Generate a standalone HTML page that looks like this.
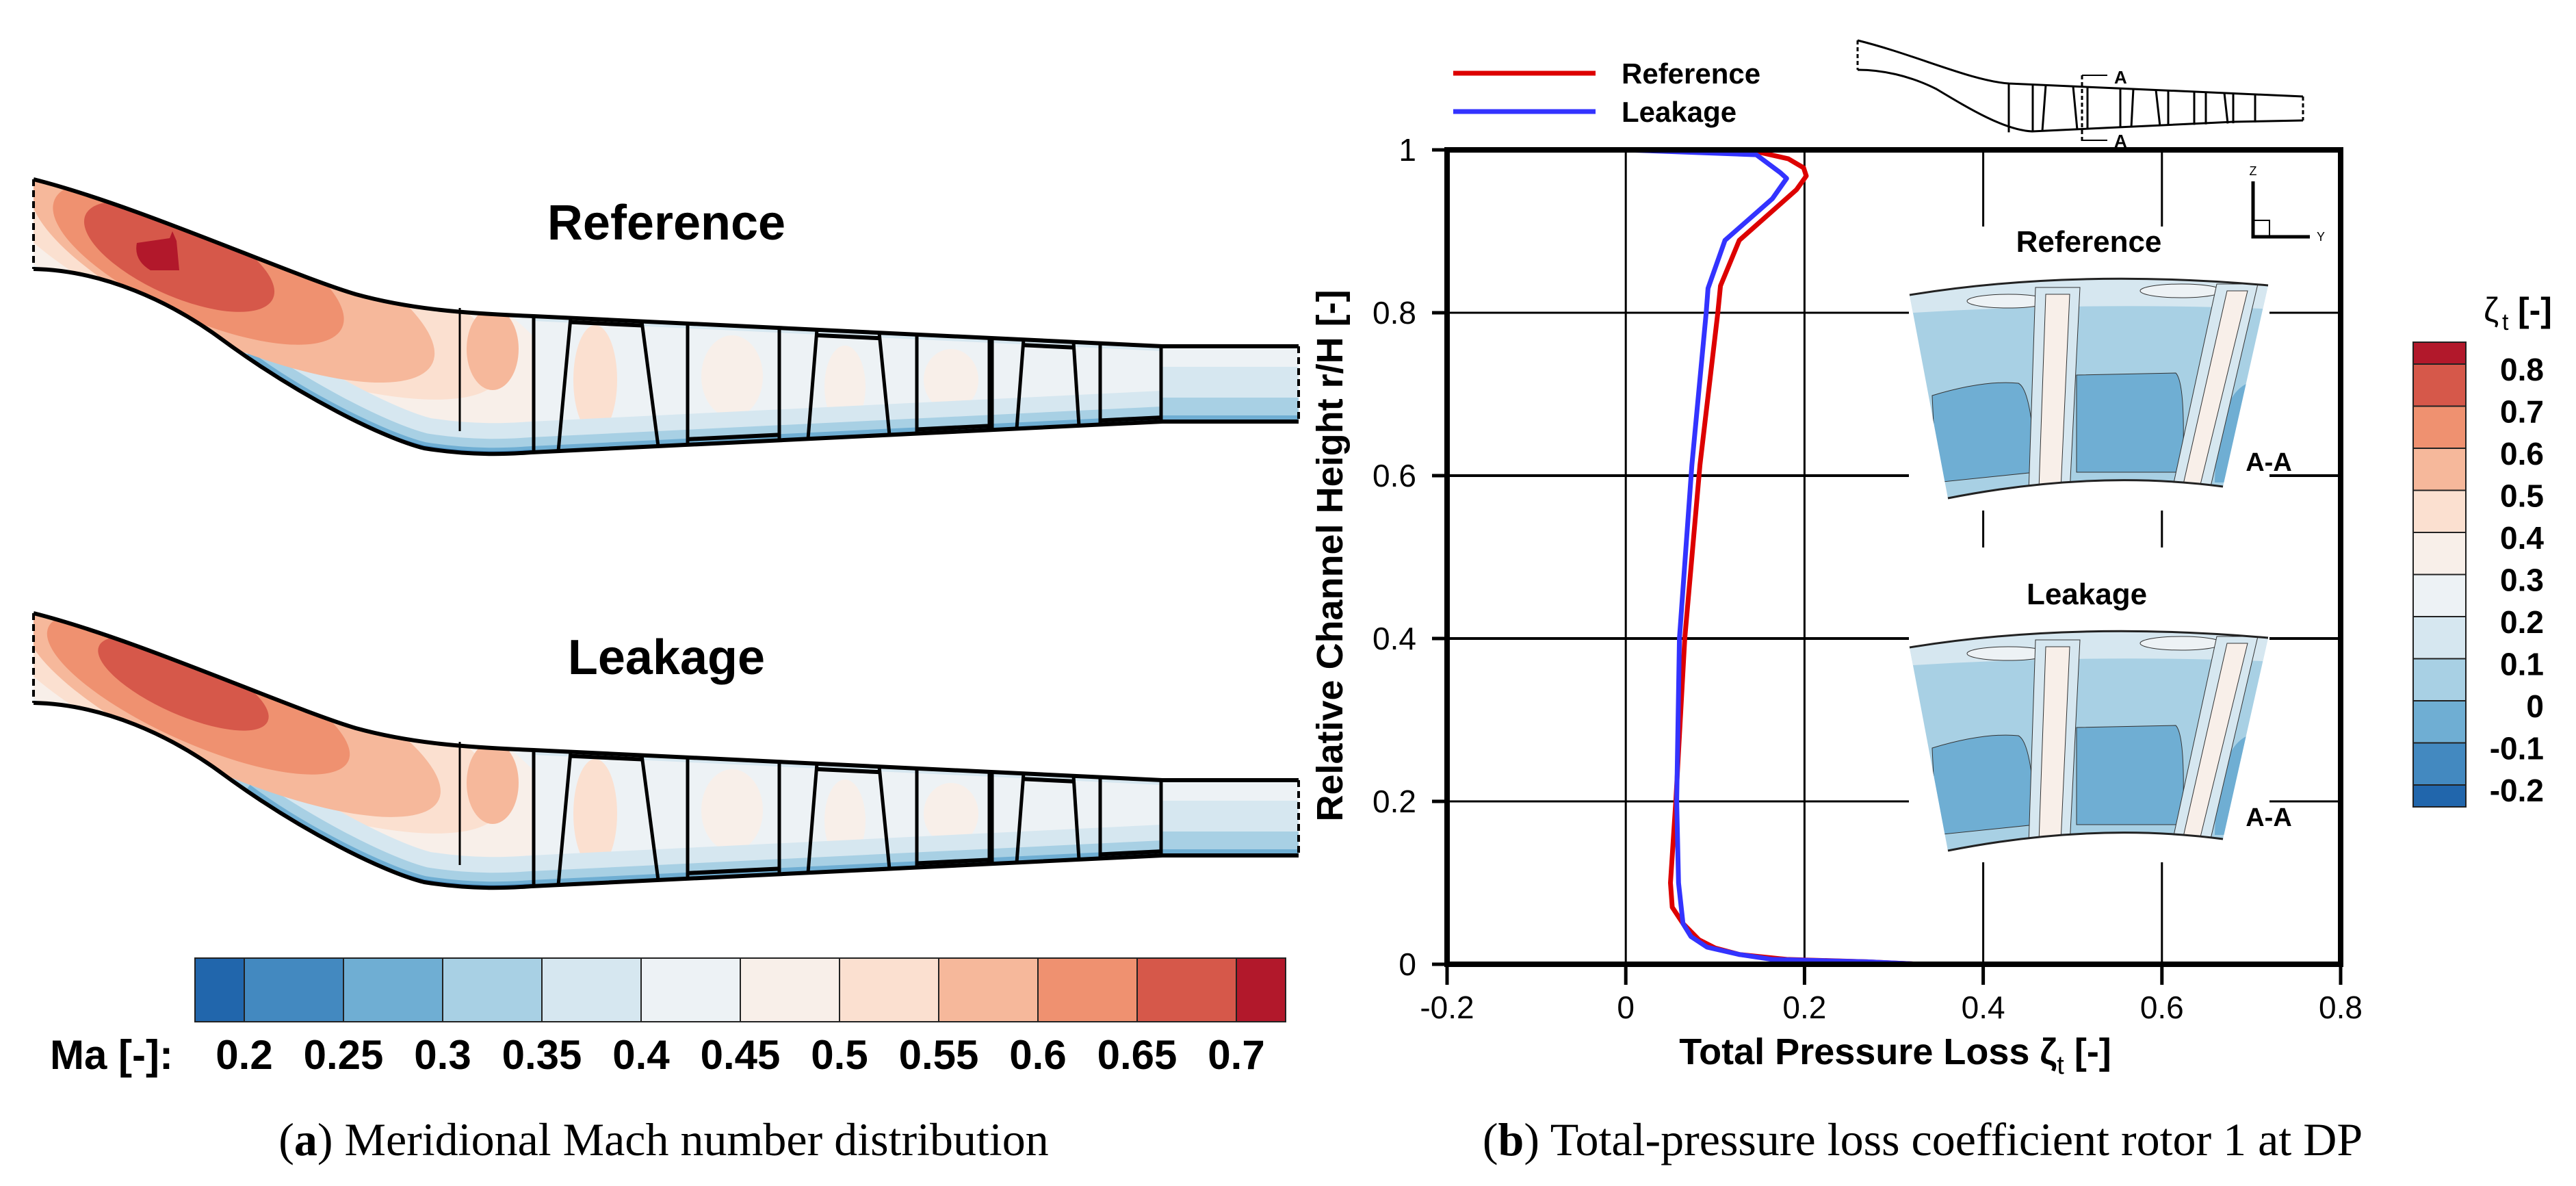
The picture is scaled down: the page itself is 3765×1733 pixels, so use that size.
<!DOCTYPE html>
<html><head><meta charset="utf-8">
<style>
html,body{margin:0;padding:0;background:#fff;}
svg{display:block;}
.sans{font-family:"Liberation Sans",sans-serif;}
.narrow{font-family:"Liberation Sans Narrow","Liberation Sans",sans-serif;}
.serif{font-family:"Liberation Serif",serif;}
</style></head>
<body>
<svg id="fig" width="3765" height="1733" viewBox="0 0 3765 1733" xmlns="http://www.w3.org/2000/svg">
<defs>
  <clipPath id="ductClip"><path d="M49,262 C200,300 420,400 520,430 C600,452 680,458 780,462 L1699,506 L1898,506 L1898,616 L1699,616 L777,661 C760,662 700,668 620,655 C560,640 440,580 330,500 C250,440 150,395 49,393 Z"/></clipPath>
  <clipPath id="insetClip"><path d="M2791,431 Q3032,392 3315,417 L3249,711 Q3060,686 2847,728 Z"/></clipPath>
  <g id="ductBase">
    <rect x="40" y="250" width="1870" height="420" fill="#edf2f5"/>
    <ellipse cx="380" cy="410" rx="480" ry="135" fill="#f8efe9" transform="rotate(22 380 410)"/>
    <ellipse cx="360" cy="400" rx="400" ry="115" fill="#fbe0d0" transform="rotate(22 360 400)"/>
    <path d="M780,462 L1699,506 L1699,616 L777,661 Z" fill="#edf2f5"/>
    <ellipse cx="720" cy="510" rx="38" ry="60" fill="#f6b89b"/>
    <ellipse cx="870" cy="555" rx="32" ry="80" fill="#fbe0d0"/>
    <ellipse cx="1070" cy="550" rx="45" ry="60" fill="#f8efe9"/>
    <ellipse cx="1235" cy="565" rx="30" ry="60" fill="#f8efe9"/>
    <ellipse cx="1390" cy="555" rx="40" ry="45" fill="#f8efe9"/>
    <path d="M300,478 C440,580 560,640 620,655 C700,668 760,662 777,661 L1699,616 L1898,616" fill="none" stroke="#d6e7f0" stroke-width="90"/>
    <path d="M320,492 C440,580 560,640 620,655 C700,668 760,662 777,661 L1699,616 L1898,616" fill="none" stroke="#a8d0e4" stroke-width="44"/>
    <path d="M360,520 C440,580 560,640 620,655 C700,668 760,662 777,661 L1699,616 L1898,616" fill="none" stroke="#6faed3" stroke-width="18"/>
    <path d="M420,565 C500,612 560,640 620,655 C700,668 760,662 777,661" fill="none" stroke="#4389c0" stroke-width="8"/>
    <rect x="1699" y="506" width="200" height="30" fill="#edf2f5"/>
    <rect x="1699" y="536" width="200" height="45" fill="#d6e7f0"/>
    <rect x="1699" y="581" width="200" height="22" fill="#a8d0e4"/>
    <path d="M780,462 L1699,506" stroke="#d6e7f0" stroke-width="14" fill="none"/>
  </g>
  <g id="inset">
    <g clip-path="url(#insetClip)">
      <rect x="2780" y="390" width="550" height="350" fill="#a8d0e4"/>
      <path d="M2780,390 L3330,390 L3330,452 Q3060,440 2780,458 Z" fill="#d6e7f0"/>
      <ellipse cx="2935" cy="440" rx="60" ry="10" fill="#edf2f5" stroke="#333" stroke-width="1"/>
      <ellipse cx="3188" cy="425" rx="60" ry="10" fill="#edf2f5" stroke="#333" stroke-width="1"/>
      <path d="M2824,578 Q2900,555 2950,560 Q2970,570 2975,690 L2830,705 Z" fill="#6faed3" stroke="#333" stroke-width="1"/>
      <path d="M3035,548 L3180,545 Q3195,560 3190,690 L3035,690 Z" fill="#6faed3" stroke="#333" stroke-width="1"/>
      <path d="M3285,560 L3260,705 L3237,705 Q3240,580 3285,560 Z" fill="#6faed3"/>
      <path d="M2975,420 L3040,420 L3025,720 L2965,720 Z" fill="#d6e7f0" stroke="#333" stroke-width="1"/>
      <path d="M2990,430 L3025,430 L3012,715 L2980,715 Z" fill="#f8efe9" stroke="#333" stroke-width="1"/>
      <path d="M3240,415 L3300,415 L3230,715 L3175,715 Z" fill="#d6e7f0" stroke="#333" stroke-width="1"/>
      <path d="M3255,425 L3285,425 L3215,712 L3190,712 Z" fill="#f8efe9" stroke="#333" stroke-width="1"/>
    </g>
    <path d="M2791,431 Q3032,392 3315,417 M3249,711 Q3060,686 2847,728" fill="none" stroke="#222" stroke-width="3"/>
  </g>
</defs>

<!-- ===== Panel (a) ===== -->
<g>
  <g clip-path="url(#ductClip)">
    <use href="#ductBase"/>
    <ellipse cx="340" cy="400" rx="320" ry="100" fill="#f6b89b" transform="rotate(24 340 400)"/>
    <ellipse cx="290" cy="385" rx="230" ry="80" fill="#ef9170" transform="rotate(24 290 385)"/>
    <ellipse cx="262" cy="375" rx="150" ry="58" fill="#d6584a" transform="rotate(24 262 375)"/>
    <path d="M200,355 L248,348 L252,338 L258,352 L262,395 L220,395 Q195,380 200,355 Z" fill="#b2182b"/>
  </g>
  <g id="bladesRef"></g>
</g>
<g transform="translate(0,634)">
  <g clip-path="url(#ductClip)">
    <use href="#ductBase"/>
    <ellipse cx="340" cy="400" rx="330" ry="95" fill="#f6b89b" transform="rotate(24 340 400)"/>
    <ellipse cx="290" cy="380" rx="240" ry="72" fill="#ef9170" transform="rotate(24 290 380)"/>
    <ellipse cx="268" cy="365" rx="135" ry="45" fill="#d6584a" transform="rotate(24 268 365)"/>
  </g>
  <g id="bladesLeak"></g>
</g>
<text x="974" y="350" text-anchor="middle" class="narrow" font-weight="bold" font-size="72">Reference</text>
<text x="974" y="985" text-anchor="middle" class="narrow" font-weight="bold" font-size="72">Leakage</text>
<g id="maBar"></g>
<text x="73" y="1562" class="narrow" font-weight="bold" font-size="60">Ma [-]:</text>
<text x="970" y="1688" text-anchor="middle" class="serif" font-size="68">(<tspan font-weight="bold">a</tspan>) Meridional Mach number distribution</text>

<!-- ===== Panel (b) ===== -->
<g id="chart"></g>
<text x="2770" y="1555" text-anchor="middle" class="sans" font-weight="bold" font-size="54">Total Pressure Loss ζ<tspan font-size="38" font-weight="normal" dy="14">t</tspan><tspan dy="-14"> [-]</tspan></text>
<text x="2810" y="1688" text-anchor="middle" class="serif" font-size="68">(<tspan font-weight="bold">b</tspan>) Total-pressure loss coefficient rotor 1 at DP</text>

<script>
const xTicks = [-0.2, 0, 0.2, 0.4, 0.6, 0.8];
const yTicks = [0, 0.2, 0.4, 0.6, 0.8, 1];
const xTickLabels = ["-0.2", "0", "0.2", "0.4", "0.6", "0.8"];
const yTickLabels = ["0", "0.2", "0.4", "0.6", "0.8", "1"];
const refLoss = [0.0, 0.146, 0.182, 0.199, 0.202, 0.191, 0.127, 0.106, 0.103, 0.083, 0.066, 0.056, 0.050, 0.052, 0.064, 0.082, 0.100, 0.127, 0.180, 0.270, 0.330];
const refH    = [1.0, 0.998, 0.989, 0.978, 0.968, 0.951, 0.889, 0.833, 0.800, 0.613, 0.400, 0.200, 0.100, 0.070, 0.050, 0.030, 0.020, 0.012, 0.006, 0.003, 0.0];
const leakLoss = [0.0, 0.146, 0.173, 0.180, 0.164, 0.111, 0.092, 0.090, 0.074, 0.060, 0.057, 0.059, 0.064, 0.073, 0.091, 0.127, 0.164, 0.270, 0.330];
const leakH    = [1.0, 0.994, 0.972, 0.965, 0.940, 0.889, 0.830, 0.800, 0.613, 0.400, 0.200, 0.100, 0.050, 0.034, 0.021, 0.012, 0.006, 0.003, 0.0];
const zetaLevels = ["0.8","0.7","0.6","0.5","0.4","0.3","0.2","0.1","0","-0.1","-0.2"];
const machLevels = ["0.2","0.25","0.3","0.35","0.4","0.45","0.5","0.55","0.6","0.65","0.7"];
const palette = ["#2166ac","#4389c0","#6faed3","#a8d0e4","#d6e7f0","#edf2f5","#f8efe9","#fbe0d0","#f6b89b","#ef9170","#d6584a","#b2182b"];

const NS = "http://www.w3.org/2000/svg";
function mk(tag, attrs, parent){const e=document.createElementNS(NS,tag);for(const k in attrs)e.setAttribute(k,attrs[k]);parent.appendChild(e);return e;}
const X0=2115,X1=3421,Y0=1409,Y1=219;
function sx(v){return X0+(v+0.2)/1.0*(X1-X0);}
function sy(v){return Y0-v*(Y0-Y1);}
const chart=document.getElementById('chart');

xTicks.forEach((t,i)=>{ if(i===0||i===xTicks.length-1) return;
  const g=mk('line',{x1:sx(t),x2:sx(t),y1:Y1,y2:Y0,stroke:'#000','stroke-width':3},chart);
  
  
});
yTicks.forEach((t,i)=>{ if(i===0||i===yTicks.length-1) return;
  const g=mk('line',{x1:X0,x2:X1,y1:sy(t),y2:sy(t),stroke:'#000','stroke-width':(t===0.4||t===0.6)?4:3},chart);
  
  
});
mk('rect',{x:2790,y:331,width:527,height:415,fill:'#fff'},chart);
mk('rect',{x:2790,y:800,width:527,height:460,fill:'#fff'},chart);

const ins1=mk('use',{href:'#inset'},chart);


const ins2=mk('use',{href:'#inset',transform:'translate(0,515)'},chart);


function txt(s,attrs,name){const t=mk('text',attrs,chart);t.textContent=s;return t;}
txt('Reference',{x:3053,y:368,'text-anchor':'middle','class':'sans','font-weight':'bold','font-size':44},'inset-reference-title');
txt('Leakage',{x:3050,y:883,'text-anchor':'middle','class':'sans','font-weight':'bold','font-size':44},'inset-leakage-title');
txt('A-A',{x:3316,y:688,'text-anchor':'middle','class':'sans','font-weight':'bold','font-size':38},'section-label-ref');
txt('A-A',{x:3316,y:1207,'text-anchor':'middle','class':'sans','font-weight':'bold','font-size':38},'section-label-leak');
mk('path',{d:'M3293,265 L3293,346 L3376,346',fill:'none',stroke:'#000','stroke-width':5},chart);
mk('rect',{x:3293,y:322,width:24,height:24,fill:'none',stroke:'#000','stroke-width':2},chart);
txt('Z',{x:3293,y:256,'text-anchor':'middle','class':'sans','font-size':18},'triad-z');
txt('Y',{x:3392,y:352,'text-anchor':'middle','class':'sans','font-size':18},'triad-y');

function curve(xs,ys,color,name){
  const pts=xs.map((v,i)=>sx(v).toFixed(1)+','+sy(ys[i]).toFixed(1)).join(' ');
  const p=mk('polyline',{points:pts,fill:'none',stroke:color,'stroke-width':7,'stroke-linejoin':'round'},chart);
  
  
}
curve(refLoss,refH,'#dd0000','reference-line');
curve(leakLoss,leakH,'#3333ff','leakage-line');

const fr=mk('rect',{x:X0,y:Y1,width:X1-X0,height:Y0-Y1,fill:'none',stroke:'#000','stroke-width':8},chart);


xTicks.forEach((t,i)=>{
  mk('line',{x1:sx(t),x2:sx(t),y1:Y0,y2:Y0+30,stroke:'#000','stroke-width':5},chart);
  txt(xTickLabels[i],{x:sx(t),y:1488,'text-anchor':'middle','class':'sans','font-size':46},'x-tick-label');
});
yTicks.forEach((t,i)=>{
  mk('line',{x1:X0-22,x2:X0,y1:sy(t),y2:sy(t),stroke:'#000','stroke-width':5},chart);
  txt(yTickLabels[i],{x:2070,y:sy(t)+16,'text-anchor':'end','class':'sans','font-size':46},'y-tick-label');
});
txt('Relative Channel Height r/H [-]',{x:1962,y:812,'text-anchor':'middle','class':'sans','font-weight':'bold','font-size':54,transform:'rotate(-90 1962 812)'},'y-axis-title');

const lg=mk('g',{},chart);


mk('line',{x1:2124,x2:2332,y1:107,y2:107,stroke:'#dd0000','stroke-width':7},lg);
mk('line',{x1:2124,x2:2332,y1:163,y2:163,stroke:'#3333ff','stroke-width':7},lg);
txt('Reference',{x:2370,y:122,'class':'sans','font-weight':'bold','font-size':42},'legend-reference');
txt('Leakage',{x:2370,y:178,'class':'sans','font-weight':'bold','font-size':42},'legend-leakage');

const mini=mk('g',{fill:'none',stroke:'#000','stroke-width':3},chart);


mk('path',{d:'M2715,59 C2800,80 2880,118 2936,122 L3366,141 M3366,176 L3264,178 L2970,192 C2930,190 2880,160 2830,130 C2790,110 2750,102 2715,102'},mini);
mk('path',{d:'M2715,59 L2715,102 M3366,141 L3366,176','stroke-dasharray':'6 4','stroke':'#000','stroke-width':3},mini);
[[2936,2936],[2971,2971],[2990,2985],[3030,3036],[3051,3051],[3099,3099],[3118,3115],[3151,3157],[3169,3169],[3207,3207],[3224,3224],[3251,3256],[3264,3264],[3296,3296]].forEach(b=>{
  const yt=122+(b[0]-2936)*19/430, yb=192-(b[1]-2970)*16/396;
  mk('line',{x1:b[0],y1:yt,x2:b[1],y2:yb},mini);
});
mk('path',{d:'M3043,110 L3043,207','stroke-dasharray':'6 4'},mini);
mk('path',{d:'M3043,110 L3080,110 M3043,205 L3080,205','stroke-width':2},mini);
txt('A',{x:3090,y:122,'class':'sans','font-weight':'bold','font-size':26},'section-a-top');
txt('A',{x:3090,y:215,'class':'sans','font-weight':'bold','font-size':26},'section-a-bottom');

const zb=mk('g',{},chart);


const cbTop=500, cell=61.5, half=32;
for(let i=0;i<12;i++){
  const y= i===0?cbTop:cbTop+half+(i-1)*cell;
  const h=(i===0||i===11)?half:cell;
  mk('rect',{x:3527,y:y,width:77,height:h,fill:palette[11-i],stroke:'#222','stroke-width':2},zb);
}
zetaLevels.forEach((s,i)=>{
  txt(s,{x:3718,y:cbTop+half+i*cell+24,'text-anchor':'end','class':'sans','font-weight':'bold','font-size':46},'zeta-colorbar-label');
});
txt('ζ',{x:3630,y:470,'class':'sans','font-size':50},'zeta-colorbar-title');
txt('t',{x:3657,y:482,'class':'sans','font-size':34},'zeta-colorbar-title-sub');
txt('[-]',{x:3680,y:470,'class':'sans','font-weight':'bold','font-size':50},'zeta-colorbar-title-unit');

const mb=document.getElementById('maBar');
const mL=285, mCell=145, mHalf=72;
for(let i=0;i<12;i++){
  const x= i===0?mL:mL+mHalf+(i-1)*mCell;
  const w=(i===0||i===11)?mHalf:mCell;
  mk('rect',{x:x,y:1400,width:w,height:93,fill:palette[i],stroke:'#222','stroke-width':2},mb);
}
machLevels.forEach((s,i)=>{
  const t=mk('text',{x:mL+mHalf+i*mCell,y:1562,'text-anchor':'middle','class':'narrow','font-weight':'bold','font-size':60},mb);
  t.textContent=s;
  
  
});

function cy(x){return 462+(x-780)*44/919;}
function hy(x){return 661-(x-777)*45/922;}
const blades=[[672,672],[780,780],[834,816],[938,962],[1005,1005],[1139,1139],[1194,1181],[1285,1300],[1340,1340],[1446,1446],[1450,1450],[1496,1486],[1569,1577],[1608,1608],[1697,1697]];
['bladesRef','bladesLeak'].forEach(id=>{
  const g=document.getElementById(id);
  blades.forEach(b=>{
    const y1= b[0]<700?450:cy(b[0]);
    const y2= b[1]<700?630:hy(b[1]);
    mk('line',{x1:b[0],y1:y1,x2:b[1],y2:y2,stroke:'#000','stroke-width':b[0]<700?3:5},g);
  });
  [[834,938,6,'c'],[1194,1285,8,'c'],[1496,1569,8,'c'],[1005,1139,-8,'h'],[1340,1446,-6,'h'],[1608,1697,-6,'h']].forEach(s=>{
    const f=s[3]==='c'?cy:hy;
    mk('line',{x1:s[0],y1:f(s[0])+s[2],x2:s[1],y2:f(s[1])+s[2],stroke:'#000','stroke-width':6},g);
  });
  mk('path',{d:'M49,262 C200,300 420,400 520,430 C600,452 680,458 780,462 L1699,506 L1898,506 M1898,616 L1699,616 L777,661 C760,662 700,668 620,655 C560,640 440,580 330,500 C250,440 150,395 49,393',fill:'none',stroke:'#000','stroke-width':6},g);
  mk('path',{d:'M49,262 L49,393 M1898,506 L1898,616',fill:'none',stroke:'#000','stroke-width':4,'stroke-dasharray':'10 6'},g);
});
</script>
</svg>
</body></html>
